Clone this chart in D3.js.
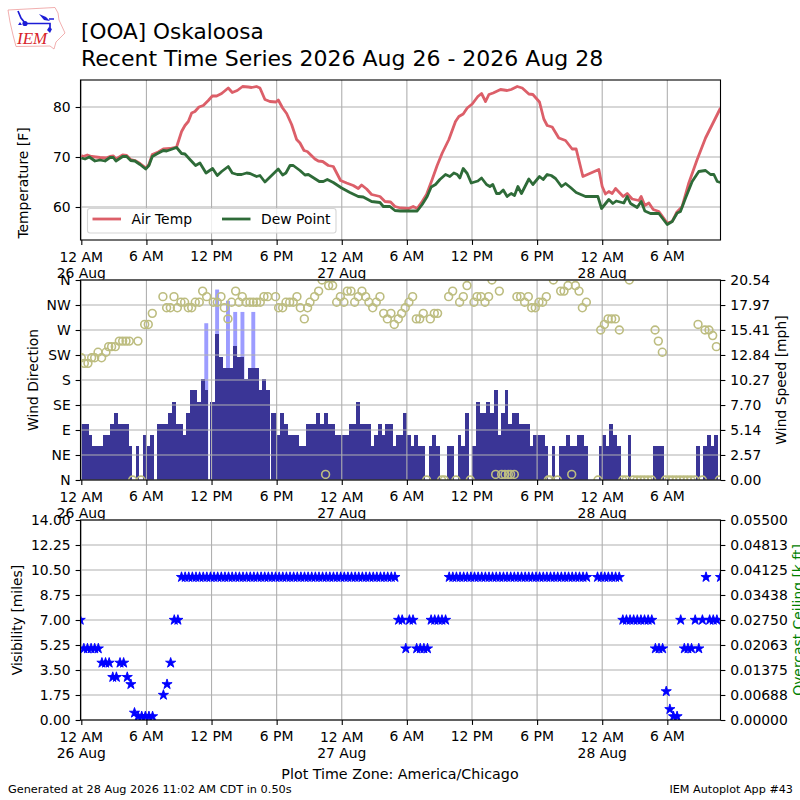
<!DOCTYPE html>
<html>
<head>
<meta charset="utf-8">
<script src="https://cdn.jsdelivr.net/npm/d3@7"></script>
<style>
html, body { margin: 0; padding: 0; background: #fff; }
text { font-family: "DejaVu Sans", sans-serif; fill: #000; }
</style>
</head>
<body>
<div id="root"></div>
<script>
// hours since 26 Aug 00:00 for the time ticks
var tickHours = [0, 6, 12, 18, 24, 30, 36, 42, 48, 54];
var tickNames = ['12 AM', '6 AM', '12 PM', '6 PM', '12 AM', '6 AM', '12 PM', '6 PM', '12 AM', '6 AM'];
var tickDays = { 0: '26 Aug', 24: '27 Aug', 48: '28 Aug' };

var airHours = [0, .18, .55, .95, 1.72, 2.27, 2.64, 2.95, 3.19, 3.81, 4.18, 4.55, 4.94, 5.41, 5.96, 6.23, 6.54, 7.09, 7.56, 8.17, 8.78, 9.24, 9.55, 9.86, 10.17, 10.47, 10.84, 11.24, 11.7, 12.07, 12.47, 12.93, 13.54, 13.91, 14.37, 14.86, 15.39, 15.69, 16.15, 16.46, 16.92, 17.38, 17.94, 18.15, 18.55, 18.92, 19.38, 19.84, 20.15, 20.52, 20.82, 21.53, 21.84, 22.24, 22.76, 23.22, 23.89, 24.45, 25.06, 25.52, 25.83, 26.29, 26.75, 27.52, 27.98, 28.5, 28.9, 29.42, 30.18, 30.58, 30.95, 31.41, 31.81, 32.33, 32.79, 33.26, 33.87, 34.48, 34.79, 35.19, 35.56, 36.02, 36.54, 36.88, 37.25, 37.56, 37.95, 38.63, 39.24, 39.61, 40.17, 40.63, 41.24, 41.61, 42.22, 42.62, 42.93, 43.39, 44, 44.62, 45.23, 45.6, 46.22, 47.69, 48, 48.3, 48.61, 48.92, 49.23, 49.93, 50.3, 50.76, 51.38, 51.59, 51.93, 52.3, 52.7, 53.22, 53.99, 54.45, 54.85, 55.37, 55.98, 56.75, 57.52, 57.98, 58.9];
var airTemp = [70.3, 70.1, 70.4, 70.1, 69.9, 69.8, 70.1, 70.2, 69.6, 70.4, 70.3, 69.5, 69.3, 68.7, 67.8, 68.5, 70.5, 71, 71.6, 71.7, 72, 75.1, 76.3, 77.1, 78.8, 79.1, 80, 80.3, 81.3, 82.2, 82.2, 82.7, 83.8, 82.9, 83.3, 84.1, 84, 83.9, 84.1, 83.8, 81.5, 81.1, 81, 81.4, 79.8, 78.7, 76.5, 73.5, 72.8, 71.3, 71.1, 69.6, 69.2, 69.1, 68.3, 68.1, 65.3, 64.8, 64.3, 63.7, 64.4, 63.6, 62.5, 62.1, 61.1, 61, 60.1, 59.8, 59.7, 60.1, 59.7, 61.1, 62.5, 65.5, 68.3, 70.8, 73.5, 77.1, 78.1, 78.6, 79.8, 80.6, 82.1, 82.7, 81.1, 82.5, 82.8, 83.5, 83.3, 83.5, 84.1, 83.8, 82.6, 82.5, 81, 77.6, 76.3, 76, 73.8, 73.3, 71.6, 71.6, 66.1, 67.5, 64.1, 62.6, 63.1, 62.7, 63.7, 62.1, 62.7, 61.6, 61.3, 62.1, 60.3, 60.8, 59.5, 59.1, 56.8, 57.1, 58.9, 60.1, 64.8, 69.5, 73.8, 75.8, 79.8];

var dewHours = [0, .34, .74, 1.26, 1.72, 2.18, 2.64, 2.95, 3.19, 3.81, 4.18, 4.55, 4.94, 5.41, 5.93, 6.23, 6.54, 6.94, 7.56, 7.86, 8.78, 9.24, 9.55, 10.01, 10.53, 10.93, 11.49, 12.1, 12.53, 12.93, 13.54, 13.91, 14.37, 14.77, 15.23, 15.54, 16.15, 16.46, 16.92, 18.15, 18.55, 18.85, 19.23, 19.53, 20.15, 20.61, 20.92, 21.93, 22.3, 22.67, 23.22, 23.99, 24.75, 25.52, 25.98, 26.75, 27.52, 27.83, 28.44, 28.9, 29.42, 30.95, 31.41, 31.87, 32.24, 32.64, 33.04, 33.56, 33.96, 34.33, 34.64, 34.88, 35.19, 35.56, 35.93, 36.54, 36.88, 37.34, 37.65, 37.92, 38.26, 38.54, 38.88, 39.24, 39.61, 39.92, 40.23, 40.56, 41.24, 41.61, 42.22, 42.56, 42.93, 43.3, 43.7, 44.25, 44.62, 45.08, 45.6, 46.46, 47.6, 47.94, 48.61, 48.98, 49.29, 49.99, 50.3, 50.61, 51.22, 51.59, 51.93, 52.45, 53.22, 53.99, 54.45, 54.91, 55.21, 55.68, 56.29, 56.9, 57.52, 57.98, 58.29, 58.6, 58.9];
var dewPoint = [69.8, 69.6, 70, 69.2, 69.4, 69.2, 69.9, 69.9, 69.2, 70.1, 70.1, 69.3, 69.2, 68.5, 67.6, 68.3, 70.1, 70.6, 71.3, 71.2, 71.9, 70.7, 70.6, 69.5, 68.3, 68.8, 66.8, 67.7, 66.3, 67.1, 68.1, 66.8, 66.5, 66.5, 66.8, 66.7, 66.1, 66.3, 65, 67.6, 66.4, 66.8, 68.3, 68.3, 67.3, 66.4, 66.5, 65.1, 65.1, 65.5, 64.9, 63.8, 62.9, 62.1, 62, 61.1, 60.9, 60.1, 60.1, 59.3, 59.2, 59.2, 60.5, 62.1, 64, 64.5, 65.5, 66.5, 66.1, 66.8, 66.5, 65.8, 67.7, 66.7, 64.8, 65.2, 65.8, 64.5, 64.1, 64.5, 62.7, 62.7, 63.4, 62.1, 62.7, 62.3, 64.1, 62.7, 65.6, 64.5, 66.1, 65.5, 66.5, 66.3, 65.7, 64.1, 64.7, 63.9, 62.9, 62.1, 62.1, 59.7, 61.5, 60.7, 61.2, 60.8, 62.1, 60.7, 59.9, 61.1, 59.2, 58.7, 58.7, 56.5, 57.1, 58.8, 59.1, 61.8, 65.1, 67.1, 67.3, 66.5, 66.5, 65.1, 64.9];

// sustained wind, one bar per 20 minute report [mph]
var windSpeed = [5.75, 5.75, 4.6, 3.45, 3.45, 3.45, 4.6, 4.6, 5.75, 6.9,
  5.75, 5.75, 5.75, 3.45, 0, 3.45, 0, 4.6, 3.45, 4.6,
  0, 5.75, 5.75, 5.75, 6.9, 8.05, 5.75, 5.75, 4.6, 6.9,
  9.2, 9.2, 8.05, 10.36, 9.2, 8.05, 8.05, 14.96, 12.66, 11.51,
  11.51, 11.51, 13.81, 12.66, 12.66, 10.36, 11.51, 11.51, 11.51, 9.2,
  10.36, 9.2, 6.9, 6.9, 4.6, 6.9, 5.75, 4.6, 4.6, 4.6,
  3.45, 3.45, 5.75, 5.75, 5.75, 6.9, 5.75, 6.9, 5.75, 5.75,
  4.6, 4.6, 4.6, 4.6, 5.75, 5.75, 8.05, 5.75, 5.75, 5.75,
  3.45, 4.6, 5.75, 4.6, 5.75, 5.75, 3.45, 4.6, 4.6, 6.9,
  4.6, 3.45, 4.6, 3.45, 3.45, 0, 3.45, 4.6, 3.45, 0,
  0, 3.45, 3.45, 0, 4.6, 3.45, 6.9, 0, 3.45, 8.05,
  6.9, 6.9, 8.05, 6.9, 9.2, 4.6, 6.9, 9.2, 5.75, 6.9,
  6.9, 5.75, 5.75, 5.75, 3.45, 4.6, 4.6, 4.6, 3.45, 0,
  3.45, 0, 3.45, 3.45, 4.6, 3.45, 3.45, 4.6, 4.6, 3.45,
  0, 0, 0, 3.45, 4.6, 3.45, 5.75, 4.6, 3.45, 0,
  0, 4.6, 0, 0, 0, 0, 0, 0, 3.45, 3.45,
  3.45, 0, 0, 0, 0, 0, 0, 0, 0, 0,
  3.45, 0, 3.45, 4.6, 3.45, 4.6, 0];
var gustSlots = [34, 37, 40, 42, 44, 47];
var gustSpeed = [16.1, 19.56, 18.41, 17.26, 17.26, 17.26];
// reports that came in a few minutes late, these leave a thin gap in the bars
var lateSlots = [10, 35, 52];
var lateMinutes = [5, 11, 11];

var dirHours = [0, .28, .61, .95, 1.23, 1.54, 1.87, 2.27, 2.52, 2.79, 3.13, 3.5, 3.81, 4.12, 4.42, 4.73, 5.22, 5.5, 5.84, 6.17, 6.54, 7.52, 7.86, 8.2, 8.54, 8.85, 9.18, 9.52, 9.86, 10.17, 10.5, 10.87, 11.18, 11.55, 12.16, 12.53, 12.87, 13.18, 13.51, 13.85, 14.22, 14.53, 14.83, 15.17, 15.54, 15.85, 16.15, 16.49, 16.83, 17.17, 17.9, 18.18, 18.55, 18.86, 19.2, 19.53, 19.87, 20.18, 20.55, 20.85, 21.07,
  21.5, 21.87, 22.18, 22.51, 22.79, 23.16, 23.53, 23.87, 24.2, 24.51, 24.85, 25.19, 25.52, 25.86, 26.2, 26.5, 26.85, 27.18, 27.52, 27.86, 28.2, 28.53, 28.84, 29.21, 29.52, 29.85, 30.19, 30.53, 30.87, 31.18, 31.51, 31.82, 32.16, 32.53, 32.83, 33.2, 33.45, 33.85, 34.22, 34.52, 34.86, 35.2, 35.54, 35.84, 36.18, 36.46, 36.83, 37.2, 37.53, 37.84, 38.18, 38.52, 38.73, 39.04, 39.35, 39.56, 39.9, 40.14, 40.48, 40.85, 41.19, 41.5, 41.83, 42.17, 42.51, 42.85,
  43.03, 43.19, 43.5, 43.87, 44.17, 44.48, 44.85, 45.19, 45.53, 45.86, 46.17, 46.54, 47.61, 47.86, 48.2, 48.54, 48.87, 49.21, 49.58, 49.89, 50.19, 50.5, 50.87, 51.21, 51.55, 51.88, 52.22, 52.56, 52.87, 53.17, 53.54, 53.82, 54.16, 54.49, 54.83, 55.17, 55.51, 55.85, 56.18, 56.52, 56.83, 57.23, 57.47, 57.84, 58.18, 58.52, 58.79];
var dirValues = [220, 210, 210, 220, 220, 230, 220, 230, 240, 240, 240, 250, 250, 250, 250, 0, 250, 0, 280, 280, 300, 330, 310, 310, 330, 310, 320, 320, 310, 310, 320, 320, 340, 330, 320, 320, 330, 310, 290, 320, 340, 320, 330, 320, 320, 320, 320, 320, 330, 330, 330, 310, 310, 320, 320, 320, 330, 310, 290, 310, 320,
  330, 340, 360, 10, 350, 350, 320, 330, 320, 340, 340, 320, 330, 340, 330, 320, 310, 320, 330, 300, 290, 300, 280, 290, 300, 310, 320, 330, 290, 290, 300, 0, 290, 300, 300, 0, 0, 330, 340, 0, 320, 330, 350, 0, 320, 330, 330, 320, 330, 360, 10, 340, 10, 10, 10, 10, 10, 330, 330, 320, 330, 310, 310, 320, 320, 330,
  0, 0, 360, 0, 340, 340, 350, 10, 350, 340, 310, 320, 0, 270, 280, 290, 290, 290, 270, 0, 0, 360, 0, 0, 0, 0, 0, 0, 270, 250, 230, 0, 0, 0, 0, 0, 0, 0, 0, 0, 280, 0, 270, 270, 260, 240, 0];

// visibility per 20 minute report [miles], null where nothing was reported
var visibility = [7, 5, 5, 5, 5, 5, 4, 4, 4, 3, 3, 4, 4, 3, 2.5, .5, .25, .25, .25, .25, .25, null, null, 1.75, 2.5, 4, 7, 7,
  10, 10, 10, 10, 10, 10, 10, 10, 10, 10, 10, 10, 10, 10, 10, 10, 10, 10, 10, 10, 10, 10, 10, 10, 10, 10, 10, 10, 10, 10, 10, 10,
  10, 10, 10, 10, 10, 10, 10, 10, 10, 10, 10, 10, 10, 10, 10, 10, 10, 10, 10, 10, 10, 10, 10, 10, 10, 10, 10, 10,
  7, 7, 5, 7, 7, 5, 5, 5, 5, 7, 7, 7, 7, 7,
  10, 10, 10, 10, 10, 10, 10, 10, 10, 10, 10, 10, 10, 10, 10, 10, 10, 10, 10, 10, 10, 10, 10, 10, 10, 10, 10, 10, 10, 10, 10, 10, 10, 10, 10, 10, 10, 10, 10,
  null, null, 10, 10, 10, 10, 10, 10, 10,
  7, 7, 7, 7, 7, 7, 7, 7, 7, 5, 5, 5, 2, .75, .25, .25, 7, 5, 5, 5, 7, 5, 7, 10, 7, 7, 7, 10];

var dirTicks = [0, 45, 90, 135, 180, 225, 270, 315, 360];
var dirNames = ['N', 'NE', 'E', 'SE', 'S', 'SW', 'W', 'NW', 'N'];
var speedTicks = [0, 2.57, 5.14, 7.70, 10.27, 12.84, 15.41, 17.97, 20.54];
var visTicks = [0, 1.75, 3.5, 5.25, 7, 8.75, 10.5, 12.25, 14];
var ceilingTicks = [0, .00688, .01375, .02063, .0275, .03438, .04125, .04813, .055];

var width = 800, height = 800;
var left = 80.5, right = 720.5;
var panel1 = { top: 80, bottom: 240 };
var panel2 = { top: 280, bottom: 480 };
var panel3 = { top: 520, bottom: 720 };
var gridColor = '#b0b0b0';

var svg = d3.select('#root').append('svg')
  .attr('width', width).attr('height', height)
  .style('display', 'block');

var xScale = d3.scaleLinear().domain([-0.075, 58.9]).range([left, right]);

function slotHour(i) {
  var k = lateSlots.indexOf(i);
  return (i * 20 + (k < 0 ? 0 : lateMinutes[k])) / 60;
}

function addPanel(p, id) {
  var g = svg.append('g');
  g.append('rect')
    .attr('x', left).attr('y', p.top)
    .attr('width', right - left).attr('height', p.bottom - p.top)
    .attr('fill', '#fff');
  svg.append('clipPath').attr('id', id).append('rect')
    .attr('x', left).attr('y', p.top)
    .attr('width', right - left).attr('height', p.bottom - p.top);
  return g;
}

function addGrid(g, p, yScale, yTicks) {
  g.selectAll('.vgrid').data(tickHours).enter().append('line')
    .attr('x1', function (d) { return xScale(d); })
    .attr('x2', function (d) { return xScale(d); })
    .attr('y1', p.top).attr('y2', p.bottom)
    .attr('stroke', gridColor).attr('stroke-width', 1.1);
  g.selectAll('.hgrid').data(yTicks).enter().append('line')
    .attr('x1', left).attr('x2', right)
    .attr('y1', function (d) { return yScale(d); })
    .attr('y2', function (d) { return yScale(d); })
    .attr('stroke', gridColor).attr('stroke-width', 1.1);
}

// spines, ticks and the two-line time labels
function addFrame(g, p) {
  g.append('rect')
    .attr('x', left).attr('y', p.top)
    .attr('width', right - left).attr('height', p.bottom - p.top)
    .attr('fill', 'none').attr('stroke', '#000').attr('stroke-width', 1.1);
  var axis = g.append('g').attr('transform', 'translate(0,' + p.bottom + ')')
    .call(d3.axisBottom(xScale).tickValues(tickHours).tickSize(4.9).tickFormat(''));
  axis.select('.domain').remove();
  axis.selectAll('line').attr('stroke-width', 1.1);
  tickHours.forEach(function (h, i) {
    var isDay = tickDays[h] !== undefined;
    g.append('text')
      .attr('x', xScale(h)).attr('y', p.bottom + (isDay ? 22 : 20.7))
      .attr('text-anchor', 'middle').style('font-size', '13.9px')
      .text(tickNames[i]);
    if (isDay) {
      g.append('text')
        .attr('x', xScale(h)).attr('y', p.bottom + 38)
        .attr('text-anchor', 'middle').style('font-size', '13.9px')
        .text(tickDays[h]);
    }
  });
}

function addYAxis(g, generator, x) {
  var axis = g.append('g').attr('transform', 'translate(' + x + ',0)').call(generator);
  axis.select('.domain').remove();
  axis.selectAll('line').attr('stroke-width', 1.1);
  axis.selectAll('text').style('font-size', '13.9px')
    .style('font-family', '"DejaVu Sans", sans-serif').attr('fill', '#000');
}

function addVerticalLabel(text, x, y, color) {
  var t = svg.append('text')
    .attr('transform', 'translate(' + x + ',' + y + ') rotate(-90)')
    .attr('text-anchor', 'middle').style('font-size', '13.9px')
    .text(text);
  if (color) t.style('fill', color);
}

// temperature panel
var g1 = addPanel(panel1, 'clip1');
var yTemp = d3.scaleLinear().domain([53.4, 85.4]).range([panel1.bottom, panel1.top]);
addGrid(g1, panel1, yTemp, [60, 70, 80]);

var airLine = d3.line().x(function (d, i) { return xScale(airHours[i]); }).y(function (d) { return yTemp(d); });
var dewLine = d3.line().x(function (d, i) { return xScale(dewHours[i]); }).y(function (d) { return yTemp(d); });
var airColor = '#dc5f69', dewColor = '#2e6b38';
g1.append('path').datum(airTemp).attr('d', airLine)
  .attr('fill', 'none').attr('stroke', airColor).attr('stroke-width', 2.8)
  .attr('stroke-linejoin', 'round').attr('clip-path', 'url(#clip1)');
g1.append('path').datum(dewPoint).attr('d', dewLine)
  .attr('fill', 'none').attr('stroke', dewColor).attr('stroke-width', 2.8)
  .attr('stroke-linejoin', 'round').attr('clip-path', 'url(#clip1)');

// legend
var legend = g1.append('g');
legend.append('rect')
  .attr('x', 87.5).attr('y', 208.5).attr('width', 248.5).attr('height', 24.5)
  .attr('rx', 2.5).attr('fill', '#fff').attr('fill-opacity', .8)
  .attr('stroke', '#d6d6d6').attr('stroke-width', 1.1);
[[92.5, 'Air Temp', airColor], [222, 'Dew Point', dewColor]].forEach(function (d) {
  legend.append('line')
    .attr('x1', d[0]).attr('x2', d[0] + 28.5).attr('y1', 219).attr('y2', 219)
    .attr('stroke', d[2]).attr('stroke-width', 2.8);
  legend.append('text').attr('x', d[0] + 39).attr('y', 224)
    .style('font-size', '13.9px').text(d[1]);
});
addFrame(g1, panel1);
addYAxis(g1, d3.axisLeft(yTemp).tickValues([60, 70, 80]).tickSize(4.9).tickPadding(4.9), left);
addVerticalLabel('Temperature [F]', 28, 183);

// wind panel
var g2 = addPanel(panel2, 'clip2');
var yDir = d3.scaleLinear().domain([0, 360]).range([panel2.bottom, panel2.top]);
var ySpeed = d3.scaleLinear().domain([0, 20.54]).range([panel2.bottom, panel2.top]);
// a touch wider than the 20 minute step so neighbours do not show a seam
var barWidth = xScale(1 / 3) - xScale(0) + .3;

g2.append('g').attr('clip-path', 'url(#clip2)')
  .selectAll('.gust').data(gustSlots).enter().append('rect')
  .attr('x', function (d) { return xScale(slotHour(d)); })
  .attr('y', function (d, i) { return ySpeed(gustSpeed[i]); })
  .attr('width', barWidth)
  .attr('height', function (d, i) { return panel2.bottom - ySpeed(gustSpeed[i]); })
  .attr('fill', '#9c9cff');
g2.append('g').attr('clip-path', 'url(#clip2)')
  .selectAll('.speed').data(windSpeed).enter().append('rect')
  .attr('x', function (d, i) { return xScale(slotHour(i)); })
  .attr('y', function (d) { return ySpeed(d); })
  .attr('width', barWidth)
  .attr('height', function (d) { return panel2.bottom - ySpeed(d); })
  .attr('fill', '#3a3596')
  .attr('shape-rendering', 'crispEdges');
addGrid(g2, panel2, yDir, dirTicks);
g2.append('g').attr('clip-path', 'url(#clip2)')
  .selectAll('.dir').data(dirValues).enter().append('circle')
  .attr('cx', function (d, i) { return xScale(dirHours[i]); })
  .attr('cy', function (d) { return yDir(d); })
  .attr('r', 3.9)
  .attr('fill', 'none').attr('stroke', '#bdbd80').attr('stroke-width', 1.6);
addFrame(g2, panel2);
addYAxis(g2, d3.axisLeft(yDir).tickValues(dirTicks).tickSize(4.9).tickPadding(4.9)
  .tickFormat(function (d, i) { return dirNames[i]; }), left);
addYAxis(g2, d3.axisRight(ySpeed).tickValues(speedTicks).tickSize(4.9).tickPadding(4.9)
  .tickFormat(d3.format('.2f')), right);
addVerticalLabel('Wind Direction', 38, 380);
addVerticalLabel('Wind Speed [mph]', 786, 380);

// visibility panel
var g3 = addPanel(panel3, 'clip3');
var yVis = d3.scaleLinear().domain([0, 14]).range([panel3.bottom, panel3.top]);
var yCeil = d3.scaleLinear().domain([0, .055]).range([panel3.bottom, panel3.top]);
addGrid(g3, panel3, yVis, visTicks);
var star = d3.symbol().type(d3.symbolStar).size(32);
g3.append('g').attr('clip-path', 'url(#clip3)')
  .selectAll('.vis')
  .data(visibility.map(function (d, i) { return { v: d, i: i }; })
    .filter(function (d) { return d.v !== null; }))
  .enter().append('path')
  .attr('d', star)
  .attr('transform', function (d) {
    return 'translate(' + xScale(d.i / 3 - .1) + ',' + yVis(d.v) + ')';
  })
  .attr('fill', '#0000ff').attr('stroke', '#0000ff').attr('stroke-width', .9);
addFrame(g3, panel3);
addYAxis(g3, d3.axisLeft(yVis).tickValues(visTicks).tickSize(4.9).tickPadding(4.9)
  .tickFormat(d3.format('.2f')), left);
addYAxis(g3, d3.axisRight(yCeil).tickValues(ceilingTicks).tickSize(4.9).tickPadding(4.9)
  .tickFormat(d3.format('.5f')), right);
addVerticalLabel('Visibility [miles]', 22, 620);
addVerticalLabel('Overcast Ceiling [k ft]', 803, 620, 'green');

// titles and footers
svg.append('text').attr('x', 81).attr('y', 38.5).style('font-size', '21.6px').text('[OOA] Oskaloosa');
svg.append('text').attr('x', 81).attr('y', 66).style('font-size', '22px')
  .text('Recent Time Series 2026 Aug 26 - 2026 Aug 28');
svg.append('text').attr('x', 400).attr('y', 779).attr('text-anchor', 'middle')
  .style('font-size', '14.25px').text('Plot Time Zone: America/Chicago');
svg.append('text').attr('x', 8).attr('y', 793).style('font-size', '11.3px')
  .text('Generated at 28 Aug 2026 11:02 AM CDT in 0.50s');
svg.append('text').attr('x', 793).attr('y', 793).attr('text-anchor', 'end').style('font-size', '11.2px')
  .text('IEM Autoplot App #43');

// IEM logo
var logo = svg.append('g');
logo.append('path')
  .attr('d', 'M8,10 L55,7.5 L58,13 L59,20 L65,33 L61,37 L56,42 L54,49 L50,46 L16,46.5 L13,35 L10,22 Z')
  .attr('fill', '#fff').attr('stroke', '#ee9a9a').attr('stroke-width', .8);
logo.append('path')
  .attr('d', 'M25,23.5 L50,23.5 L50,30 M18,11 L21,18 L25,23 M49,19 L54,19')
  .attr('fill', 'none').attr('stroke', '#1c1cd6').attr('stroke-width', 1.7);
logo.append('circle').attr('cx', 25).attr('cy', 23.5).attr('r', 2.6).attr('fill', '#1c1cd6');
logo.append('path').attr('d', 'M39,14 L46,17 L50,21 L44,20 Z').attr('fill', '#1c1cd6');
logo.append('path').attr('d', 'M20,22 L22,25 L18,25 Z').attr('fill', '#1c1cd6');
logo.append('path').attr('d', 'M49,27 L52,29 L50,33 L47,30 Z').attr('fill', '#1c1cd6');
logo.append('text').attr('x', 17).attr('y', 44)
  .style('font-family', '"Liberation Serif", serif').style('font-style', 'italic')
  .style('font-size', '17px').style('fill', '#d8232a').text('IEM');
</script>
</body>
</html>
